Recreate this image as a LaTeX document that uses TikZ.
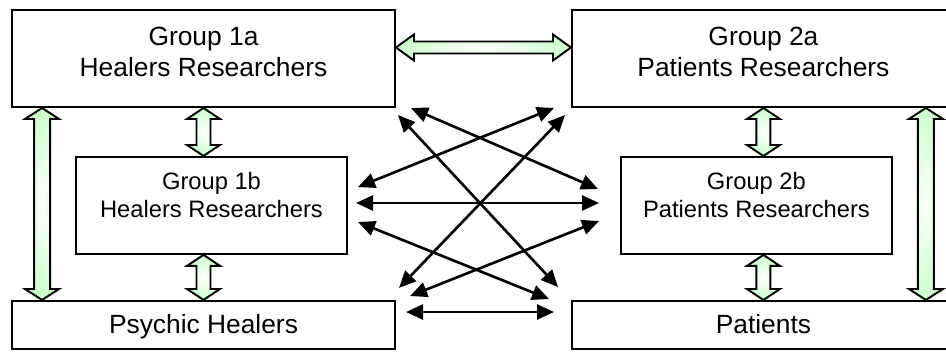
\documentclass[tikz,border=0pt]{standalone}
\usepackage{fontspec}
\setmainfont{Liberation Sans}
\usepackage{tikz}
\usetikzlibrary{positioning,calc,arrows.meta}
\definecolor{lightgreen}{RGB}{204,255,204}
\tikzset{group/.style={draw,line width=1.1pt,minimum width=7.66cm,minimum height=1.94cm,align=center,
                       font=\fontsize{15}{17.6}\selectfont,text depth=0.26cm},
         subgroup/.style={draw,line width=1.1pt,minimum width=5.42cm,minimum height=1.94cm,align=center,
                       font=\fontsize{13.5}{15.9}\selectfont,text depth=0.44cm},
         people/.style={draw,line width=1.1pt,minimum width=7.66cm,minimum height=0.96cm,
                       font=\fontsize{15}{17.6}\selectfont,text height=0.36cm,text depth=0cm},
         fat/.style={draw=black,line width=1.1pt,inner color=white,outer color=lightgreen}
}
\tikzstyle{link} = [line width=1.5pt,{Triangle[length=0.34cm,width=0.3cm]}-{Triangle[length=0.34cm,width=0.3cm]}]
% block double arrow: from, to, shaft half width, head half width, head length
\newcommand{\fatarrow}[5]{%
  \draw[fat] (#1) -- ($(#1)!#5!(#2)!#4!90:(#2)$) -- ($(#1)!#5!(#2)!#3!90:(#2)$)
    -- ($(#2)!#5!(#1)!#3!-90:(#1)$) -- ($(#2)!#5!(#1)!#4!-90:(#1)$) -- (#2)
    -- ($(#2)!#5!(#1)!#4!90:(#1)$) -- ($(#2)!#5!(#1)!#3!90:(#1)$)
    -- ($(#1)!#5!(#2)!#3!-90:(#2)$) -- ($(#1)!#5!(#2)!#4!-90:(#2)$) -- cycle;}

\begin{document}
\begin{tikzpicture}
\useasboundingbox (0,0) rectangle (18.92,-7.04);

\node[group] (g1a) at (4.07,-1.17) {Group 1a\\Healers Researchers};
\node[group,right=3.5cm of g1a] (g2a) {Group 2a\\Patients Researchers};
\node[subgroup,below=0.96cm of g1a,xshift=0.16cm] (g1b) {Group 1b\\Healers Researchers};
\node[subgroup,below=0.96cm of g2a,xshift=-0.14cm] (g2b) {Group 2b\\Patients Researchers};
\node[people,below=3.84cm of g1a] (ph) {Psychic Healers};
\node[people,right=3.5cm of ph] (pat) {Patients};

% green links
\coordinate (lup) at ([xshift=0.62cm]g1a.south west);
\coordinate (ldown) at ([xshift=0.62cm]ph.north west);
\coordinate (rup) at ([xshift=-0.6cm]g2a.south east);
\coordinate (rdown) at ([xshift=-0.6cm]pat.north east);
\coordinate (hleft) at ([yshift=0.22cm]g1a.east);
\coordinate (hright) at ([yshift=0.22cm]g2a.west);
\coordinate (s1top) at (g1a.south |- g1b.north);
\coordinate (s1bot) at (ph.north |- g1b.south);
\coordinate (s2top) at (g2a.south |- g2b.north);
\coordinate (s2bot) at (pat.north |- g2b.south);
\fatarrow{lup}{ldown}{0.16cm}{0.34cm}{0.22cm}
\fatarrow{rup}{rdown}{0.16cm}{0.34cm}{0.22cm}
\fatarrow{hleft}{hright}{0.12cm}{0.26cm}{0.36cm}
\fatarrow{g1a.south}{s1top}{0.14cm}{0.33cm}{0.22cm}
\fatarrow{s1bot}{ph.north}{0.14cm}{0.33cm}{0.22cm}
\fatarrow{g2a.south}{s2top}{0.14cm}{0.33cm}{0.22cm}
\fatarrow{s2bot}{pat.north}{0.14cm}{0.33cm}{0.22cm}

% black links
\coordinate (tl1) at (8.22,-2.16);
\coordinate (tl2) at (7.96,-2.30);
\coordinate (tr1) at (11.08,-2.16);
\coordinate (tr2) at (11.30,-2.30);
\coordinate (l1) at (7.16,-3.74);
\coordinate (l2) at (7.12,-4.06);
\coordinate (l3) at (7.16,-4.44);
\coordinate (r1) at (11.96,-3.78);
\coordinate (r2) at (11.98,-4.06);
\coordinate (r3) at (11.98,-4.42);
\coordinate (bl1) at (7.98,-5.76);
\coordinate (bl2) at (8.20,-5.92);
\coordinate (bl3) at (8.12,-6.24);
\coordinate (br1) at (11.16,-5.74);
\coordinate (br2) at (10.98,-5.98);
\coordinate (br3) at (11.08,-6.24);
\draw[link] (tl1)--(r1);
\draw[link] (tl2)--(br1);
\draw[link] (tr1)--(l1);
\draw[link] (tr2)--(bl1);
\draw[link] (l2)--(r2);
\draw[link] (l3)--(br2);
\draw[link] (r3)--(bl2);
\draw[link] (bl3)--(br3);

\end{tikzpicture}
\end{document}
